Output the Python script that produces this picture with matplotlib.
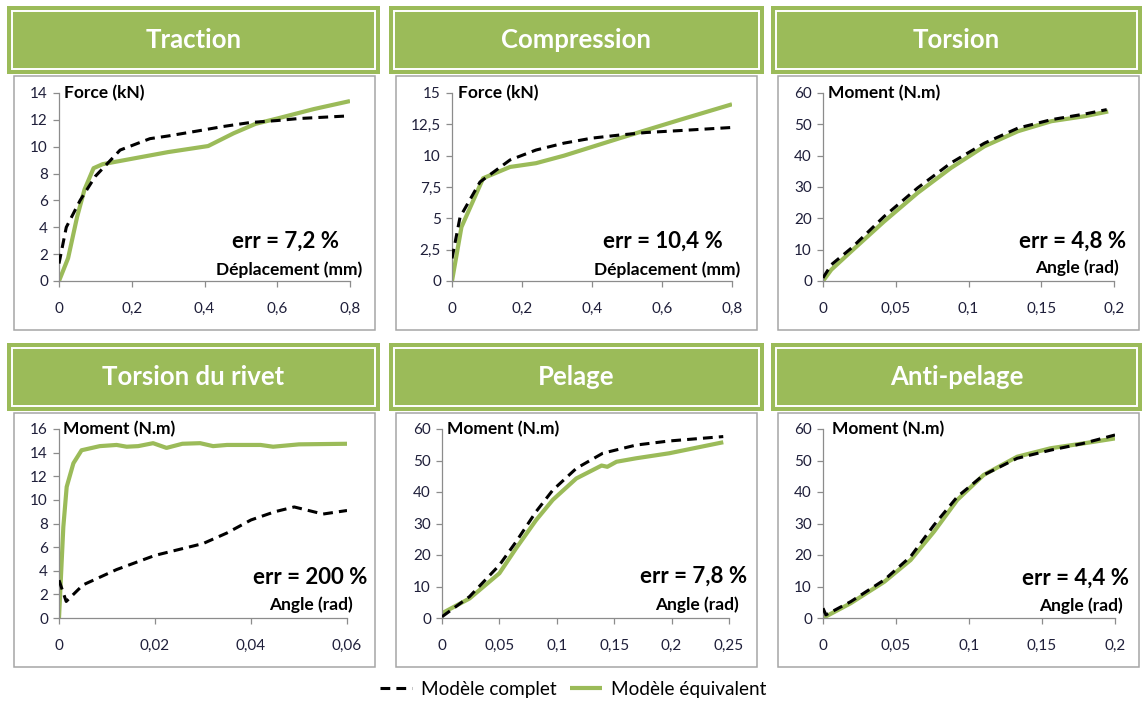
"""Comparison of full and equivalent rivet models for six load cases."""

import matplotlib

matplotlib.use("Agg")

import matplotlib.pyplot as plt
from matplotlib.patches import Rectangle
from matplotlib.ticker import FuncFormatter, MultipleLocator

W, H = 1142, 704
GREEN = "#9bbb59"
TICK_COLOR = "#1f1f3a"
SPINE_COLOR = "#8c8c8c"
BOX_COLOR = "#a6a6a6"

plt.rcParams["font.family"] = ["Lato", "DejaVu Sans"]

# Traction
traction_x_full = [0, 0.02, 0.058, 0.1, 0.168, 0.25, 0.3, 0.387, 0.45, 0.525, 0.6, 0.66, 0.73, 0.8]
traction_y_full = [1.3, 4.0, 6.0, 7.8, 9.75, 10.6, 10.8, 11.2, 11.5, 11.8, 11.95, 12.1, 12.2, 12.3]
traction_x_eq = [0, 0.025, 0.05, 0.07, 0.095, 0.12, 0.2, 0.3, 0.41, 0.48, 0.54, 0.6, 0.7, 0.8]
traction_y_eq = [0, 1.7, 4.8, 6.8, 8.4, 8.7, 9.1, 9.6, 10.05, 11.0, 11.7, 12.1, 12.8, 13.4]

# Compression
compression_x_full = [0, 0.023, 0.08, 0.166, 0.24, 0.32, 0.4, 0.48, 0.556, 0.65, 0.8]
compression_y_full = [1.8, 5.1, 7.9, 9.66, 10.45, 11.0, 11.4, 11.65, 11.85, 12.0, 12.25]
compression_x_eq = [0, 0.027, 0.089, 0.166, 0.24, 0.32, 0.4, 0.48, 0.556, 0.65, 0.746, 0.8]
compression_y_eq = [0, 4.3, 8.2, 9.1, 9.4, 10.0, 10.7, 11.4, 12.05, 12.85, 13.65, 14.1]

# Torsion
torsion_x_full = [0, 0.0057, 0.0195, 0.042, 0.065, 0.088, 0.111, 0.134, 0.157, 0.18, 0.195]
torsion_y_full = [1.0, 5.2, 10.5, 20.6, 29.7, 37.7, 44.0, 48.8, 51.5, 53.3, 54.7]
torsion_x_eq = [0, 0.0057, 0.0195, 0.042, 0.065, 0.088, 0.111, 0.134, 0.157, 0.18, 0.196]
torsion_y_eq = [0, 3.6, 9.5, 19.0, 28.1, 36.1, 43.0, 47.8, 51.0, 52.6, 54.1]

# Torsion du rivet
rivet_x_full = [0, 0.0015, 0.005, 0.012, 0.02, 0.025, 0.03, 0.035, 0.04, 0.045, 0.049, 0.052, 0.055, 0.06]
rivet_y_full = [3.2, 1.4, 2.8, 4.1, 5.3, 5.8, 6.3, 7.2, 8.3, 9.0, 9.4, 9.1, 8.8, 9.1]
rivet_x_eq = [0, 0.0009, 0.0016, 0.003, 0.0047, 0.0085, 0.012, 0.0141, 0.0165, 0.0196,
              0.0224, 0.0257, 0.0294, 0.0321, 0.035, 0.042, 0.0446, 0.05, 0.06]
rivet_y_eq = [0, 7.7, 11.1, 13.1, 14.2, 14.55, 14.65, 14.5, 14.55, 14.8,
              14.4, 14.75, 14.8, 14.55, 14.65, 14.65, 14.5, 14.7, 14.75]

# Pelage
pelage_x_full = [0, 0.024, 0.05, 0.0645, 0.082, 0.0965, 0.117, 0.14, 0.169, 0.198, 0.245]
pelage_y_full = [0.4, 6.8, 16.8, 24.2, 33.8, 40.6, 47.5, 52.3, 54.9, 56.2, 57.6]
pelage_x_eq = [0, 0.024, 0.05, 0.0645, 0.082, 0.0965, 0.117, 0.139, 0.144, 0.152, 0.169, 0.198, 0.245]
pelage_y_eq = [1.5, 6.2, 14.2, 22.1, 31.1, 37.5, 44.3, 48.4, 48.0, 49.6, 50.7, 52.3, 55.8]

# Anti-pelage
anti_x_full = [0, 0.002, 0.019, 0.042, 0.06, 0.076, 0.092, 0.11, 0.133, 0.156, 0.178, 0.2]
anti_y_full = [3.1, 1.0, 5.2, 12.1, 19.5, 29.5, 38.5, 45.4, 50.7, 53.3, 55.4, 58.1]
anti_x_eq = [0, 0.019, 0.042, 0.06, 0.076, 0.092, 0.11, 0.133, 0.156, 0.178, 0.2]
anti_y_eq = [0, 4.7, 11.5, 18.4, 27.4, 37.5, 45.4, 51.2, 53.9, 55.4, 57.0]

titles = ["Traction", "Compression", "Torsion", "Torsion du rivet", "Pelage", "Anti-pelage"]
y_labels = ["Force (kN)", "Force (kN)", "Moment (N.m)", "Moment (N.m)", "Moment (N.m)", "Moment (N.m)"]
x_labels = ["Déplacement (mm)", "Déplacement (mm)", "Angle (rad)", "Angle (rad)", "Angle (rad)", "Angle (rad)"]
errors = ["err = 7,2 %", "err = 10,4 %", "err = 4,8 %", "err = 200 %", "err = 7,8 %", "err = 4,4 %"]
x_max = [0.8, 0.8, 0.2, 0.06, 0.25, 0.2]
x_step = [0.2, 0.2, 0.05, 0.02, 0.05, 0.05]
y_max = [14, 15, 60, 16, 60, 60]
y_step = [2, 2.5, 10, 2, 10, 10]

# Layout in pixels: header box, plot box, data area, label anchors
HEADERS = [(7, 6, 380, 74), (389, 6, 764, 74), (771, 6, 1142, 74),
           (7, 343, 380, 411), (389, 343, 764, 411), (771, 343, 1142, 411)]
BOXES = [(14, 76, 375, 330), (396, 76, 757, 330), (778, 76, 1139, 330),
         (14, 413, 375, 667), (396, 413, 757, 667), (778, 413, 1139, 667)]
AREAS = [(59, 93, 350, 281), (452, 93, 732, 281), (823, 93, 1114, 281),
         (59, 429, 347, 618), (442, 429, 729, 618), (823, 429, 1115, 618)]
Y_LABEL_POS = [(64, 93), (458, 93), (828, 93), (63, 429), (447, 429), (832, 429)]
ERR_POS = [(339, 241), (723, 241), (1126, 241), (367, 577), (747, 576), (1129, 578)]
X_LABEL_POS = [(362, 270), (740, 270), (1119, 268), (353, 605), (739, 605), (1123, 606)]


def fx(x):
    return x / W


def fy(y):
    return 1 - y / H


def comma(value, _pos=None):
    return f"{value:g}".replace(".", ",")


def draw_frame(fig, header, box, title):
    x0, y0, x1, y1 = header
    fig.add_artist(Rectangle((fx(x0), fy(y1)), (x1 - x0) / W, (y1 - y0) / H,
                             transform=fig.transFigure, facecolor=GREEN, edgecolor="none",
                             zorder=-2))
    inset = 5
    fig.add_artist(Rectangle((fx(x0 + inset), fy(y1 - inset)), (x1 - x0 - 2 * inset) / W,
                             (y1 - y0 - 2 * inset) / H, transform=fig.transFigure,
                             fill=False, edgecolor="white", linewidth=1.4, zorder=-1))
    fig.text(fx((x0 + x1) / 2), fy((y0 + y1) / 2), title, color="white", fontsize=18.5,
             fontweight="bold", ha="center", va="center")

    bx0, by0, bx1, by1 = box
    fig.add_artist(Rectangle((fx(bx0), fy(by1)), (bx1 - bx0) / W, (by1 - by0) / H,
                             transform=fig.transFigure, facecolor="white",
                             edgecolor=BOX_COLOR, linewidth=1.1, zorder=-2))


def draw_panel(fig, idx, x_full, y_full, x_eq, y_eq):
    draw_frame(fig, HEADERS[idx], BOXES[idx], titles[idx])

    left, top, right, bottom = AREAS[idx]
    ax = fig.add_axes([fx(left), fy(bottom), (right - left) / W, (bottom - top) / H])
    ax.patch.set_alpha(0)
    ax.set_zorder(1)

    full_line, = ax.plot(x_full, y_full, color="black", linewidth=2.2,
                         linestyle=(0, (3.2, 2.0)), zorder=3, label="Modèle complet")
    eq_line, = ax.plot(x_eq, y_eq, color=GREEN, linewidth=3.0, zorder=2,
                       solid_capstyle="butt", solid_joinstyle="round",
                       label="Modèle équivalent")

    ax.set_xlim(0, x_max[idx])
    ax.set_ylim(0, y_max[idx])
    ax.xaxis.set_major_locator(MultipleLocator(x_step[idx]))
    ax.yaxis.set_major_locator(MultipleLocator(y_step[idx]))
    ax.xaxis.set_major_formatter(FuncFormatter(comma))
    ax.yaxis.set_major_formatter(FuncFormatter(comma))

    for side in ["top", "right"]:
        ax.spines[side].set_visible(False)
    for side in ["left", "bottom"]:
        ax.spines[side].set_color(SPINE_COLOR)
        ax.spines[side].set_linewidth(0.9)
    ax.tick_params(axis="both", colors=SPINE_COLOR, labelcolor=TICK_COLOR,
                   labelsize=11, length=4, width=0.9)
    ax.tick_params(axis="x", pad=11)
    ax.tick_params(axis="y", pad=4)

    lx, ly = Y_LABEL_POS[idx]
    fig.text(fx(lx), fy(ly), y_labels[idx], fontsize=12.5, fontweight="bold",
             ha="left", va="center")
    ex, ey = ERR_POS[idx]
    fig.text(fx(ex), fy(ey), errors[idx], fontsize=16, fontweight="bold",
             ha="right", va="center")
    xx, xy = X_LABEL_POS[idx]
    fig.text(fx(xx), fy(xy), x_labels[idx], fontsize=12.5, fontweight="bold",
             ha="right", va="center")

    return full_line, eq_line


def main():
    fig = plt.figure(figsize=(W / 100, H / 100), dpi=100)

    series = [
        (traction_x_full, traction_y_full, traction_x_eq, traction_y_eq),
        (compression_x_full, compression_y_full, compression_x_eq, compression_y_eq),
        (torsion_x_full, torsion_y_full, torsion_x_eq, torsion_y_eq),
        (rivet_x_full, rivet_y_full, rivet_x_eq, rivet_y_eq),
        (pelage_x_full, pelage_y_full, pelage_x_eq, pelage_y_eq),
        (anti_x_full, anti_y_full, anti_x_eq, anti_y_eq),
    ]

    handles = None
    for idx, data in enumerate(series):
        handles = draw_panel(fig, idx, *data)

    fig.legend(handles=list(handles), loc="center", bbox_to_anchor=(fx(573), fy(689)),
               ncol=2, frameon=False, fontsize=13.7, handlelength=1.7,
               handletextpad=0.45, columnspacing=0.7)

    fig.savefig("out.png", dpi=100)


if __name__ == "__main__":
    main()
